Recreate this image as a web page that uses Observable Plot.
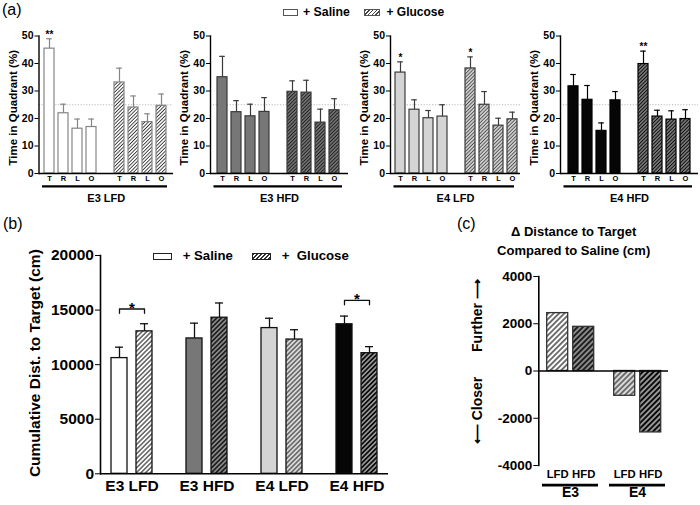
<!DOCTYPE html>
<html><head><meta charset="utf-8">
<script src="https://cdn.jsdelivr.net/npm/d3@7"></script>
<script src="https://cdn.jsdelivr.net/npm/@observablehq/plot@0.6"></script>
<style>
body{margin:0;background:#fff;}
#root{position:relative;width:700px;height:505px;overflow:hidden;font-family:"Liberation Sans",Arial,sans-serif;background:#fff;}
#root svg.plt{position:absolute;left:0;}
.lbl{position:absolute;white-space:pre;line-height:1;color:#000;}
.sw{position:absolute;box-sizing:border-box;}
</style></head><body><div id="root"></div>
<script>
// ---------------- DATA ----------------
const quadrants = ["T", "R", "L", "O"];
const groups = ["E3 LFD", "E3 HFD", "E4 LFD", "E4 HFD"];
// (a) time in quadrant (%), rows = groups, cols = quadrants
const salineMean = [[45.4, 21.9, 16.3, 16.9], [35.0, 22.3, 20.8, 22.4], [36.7, 23.2, 20.1, 20.7], [31.7, 26.8, 15.5, 26.6]];
const salineSEM  = [[3.6, 3.3, 3.5, 2.9], [7.6, 4.2, 4.4, 5.2], [3.9, 3.6, 2.8, 4.3], [4.3, 5.2, 2.9, 3.2]];
const glucoseMean = [[33.1, 24.0, 18.7, 24.6], [29.7, 29.4, 18.5, 23.0], [38.2, 25.0, 17.4, 19.7], [39.8, 20.7, 19.6, 19.8]];
const glucoseSEM  = [[5.2, 4.2, 3.0, 4.3], [4.0, 4.5, 4.9, 4.2], [4.2, 4.8, 2.7, 2.6], [4.7, 2.3, 3.2, 3.4]];
const salineSig  = [["**", "", "", ""], ["", "", "", ""], ["*", "", "", ""], ["", "", "", ""]];
const glucoseSig = [["", "", "", ""], ["", "", "", ""], ["*", "", "", ""], ["**", "", "", ""]];
const chanceLevel = 25;
const quadTicks = [0, 10, 20, 30, 40, 50];
// (b) cumulative distance to target (cm)
const distSalineMean = [10600, 12400, 13350, 13700];
const distSalineSEM = [1000, 1400, 900, 750];
const distGlucoseMean = [13050, 14300, 12300, 11050];
const distGlucoseSEM = [700, 1350, 900, 600];
const distSig = ["*", "", "", "*"];
const distBracketY = [15100, 0, 0, 15880];
const distTicks = [0, 5000, 10000, 15000, 20000];
// (c) delta distance vs saline (cm)
const deltaGenotypes = ["E3", "E4"];
const deltaDiets = ["LFD", "HFD"];
const deltaValues = [[2450, 1870], [-1050, -2600]];
const deltaTicks = [-4000, -2000, 0, 2000, 4000];

// ---------------- STYLE ----------------
const FONT = '"Liberation Sans", Arial, sans-serif';
const salineFill = {"E3 LFD": "#ffffff", "E3 HFD": "#777777", "E4 LFD": "#d4d4d4", "E4 HFD": "#060606"};
const strokeA = {"E3 LFD": "#858585", "E3 HFD": "#3a3a3a", "E4 LFD": "#3c3c3c", "E4 HFD": "#000000"};
const hatchBg = {"E3 LFD": "#ffffff", "E3 HFD": "#8a8a8a", "E4 LFD": "#dadada", "E4 HFD": "#c4c4c4"};
const hatchFg = {"E3 LFD": "#333333", "E3 HFD": "#1e1e1e", "E4 LFD": "#505050", "E4 HFD": "#0a0a0a"};
const hatchW  = {"E3 LFD": 0.36, "E3 HFD": 0.5, "E4 LFD": 0.4, "E4 HFD": 0.62};
const hatchSize = {a: 2.5, b: 3.3, c: 3.8};

const root = document.getElementById("root");
// pattern defs
const defs = d3.select(root).append("svg").attr("width", 0).attr("height", 0)
  .style("position", "absolute").append("defs");
function patId(panel, g) { return `hatch-${panel}-${groups.indexOf(g)}`; }
for (const panel of ["a", "b", "c"]) {
  const s = hatchSize[panel];
  for (const g of groups) {
    const p = defs.append("pattern").attr("id", patId(panel, g))
      .attr("patternUnits", "userSpaceOnUse").attr("width", s).attr("height", s)
      .attr("patternTransform", "rotate(45)");
    p.append("rect").attr("width", s).attr("height", s).attr("fill", hatchBg[g]);
    p.append("line").attr("x1", s / 2).attr("x2", s / 2).attr("y1", -1).attr("y2", s + 1)
      .attr("stroke", hatchFg[g]).attr("stroke-width", s * hatchW[g]);
  }
}
function place(svg, top) { svg.classList.add("plt"); svg.style.top = top + "px"; root.appendChild(svg); }
function label(text, left, top, size, weight) {
  const d = document.createElement("div"); d.className = "lbl"; d.textContent = text;
  Object.assign(d.style, {left: left + "px", top: top + "px", fontSize: size + "px", fontWeight: weight || "normal"});
  root.appendChild(d);
}
function swatch(left, top, w, h, bg, border) {
  const d = document.createElement("div"); d.className = "sw";
  Object.assign(d.style, {left: left + "px", top: top + "px", width: w + "px", height: h + "px", background: bg, border: border});
  root.appendChild(d);
}
const hatchCss = (bg, fg, a, b) => `repeating-linear-gradient(135deg, ${fg} 0 ${a}px, ${bg} ${a}px ${b}px)`;

// ---------------- PANEL A ----------------
const slotKeys = ["S-T", "S-R", "S-L", "S-O", "gap", "G-T", "G-R", "G-L", "G-O"];
const slotLabel = k => k === "gap" ? "" : k.slice(2);
const geomA = [
  {axis: 38.5, c0: 45.7, c8: 163.3, end: 173},
  {axis: 210, c0: 219.5, c8: 336.5, end: 348},
  {axis: 390, c0: 396.7, c8: 514, end: 520},
  {axis: 560, c0: 570, c8: 688, end: 698}
];
groups.forEach((g, gi) => {
  const rows = [];
  quadrants.forEach((q, qi) => rows.push({slot: "S-" + q, treat: "S", mean: salineMean[gi][qi], hi: salineMean[gi][qi] + salineSEM[gi][qi], sig: salineSig[gi][qi]}));
  quadrants.forEach((q, qi) => rows.push({slot: "G-" + q, treat: "G", mean: glucoseMean[gi][qi], hi: glucoseMean[gi][qi] + glucoseSEM[gi][qi], sig: glucoseSig[gi][qi]}));
  const geo = geomA[gi], H = 210, base = 173;
  const sk = strokeA[g];
  const svg = Plot.plot({
    width: 700, height: H,
    marginLeft: geo.axis, marginRight: 700 - geo.end, marginTop: 35.5, marginBottom: H - base,
    style: {background: "transparent", fontFamily: FONT, overflow: "visible", color: "#000"},
    x: {domain: slotKeys, range: [geo.c0 - 5, geo.c8 + 5], paddingInner: 0.32, paddingOuter: 0, axis: null},
    y: {domain: [0, 50], axis: null},
    color: {type: "identity"},
    marks: [
      Plot.ruleY([chanceLevel], {stroke: "#b8b8b8", strokeWidth: 1, strokeDasharray: "1.2,1.6"}),
      Plot.barY(rows, {x: "slot", y: "mean", fill: d => d.treat === "S" ? salineFill[g] : `url(#${patId("a", g)})`, stroke: sk, strokeWidth: 1.2}),
      Plot.ruleX(rows, {x: "slot", y1: "mean", y2: "hi", stroke: sk, strokeWidth: 1.2}),
      Plot.tickY(rows, {x: "slot", y: "hi", stroke: sk, strokeWidth: 1.2, insetLeft: 2.2, insetRight: 2.2}),
      Plot.text(rows.filter(d => d.sig), {x: "slot", y: "hi", text: "sig", dy: -4, fontSize: 10, fontWeight: "bold"}),
      Plot.ruleY([0], {strokeWidth: 1.4}),
      Plot.frame({anchor: "left", strokeWidth: 1.4}),
      Plot.axisY({ticks: quadTicks, tickSize: 4, tickPadding: 1.5, fontSize: 10.5, fontWeight: "bold", label: null}),
      Plot.axisX({tickSize: 0, tickPadding: 2.5, fontSize: 7.5, fontWeight: "bold", tickFormat: slotLabel, label: null}),
      Plot.ruleY([-4.7], {strokeWidth: 2.2, insetLeft: 3.5, insetRight: 6}),
      Plot.text([g], {frameAnchor: "bottom", lineAnchor: "middle", dy: 24.5, fontSize: 11, fontWeight: "bold"}),
      Plot.text(["Time in Quadrant (%)"], {frameAnchor: "left", textAnchor: "middle", dx: -26, dy: 3, rotate: -90, fontSize: 11.5, fontWeight: "bold"})
    ]
  });
  place(svg, 0);
});
label("(a)", 2, 2, 16);
swatch(283, 9, 15, 7, "#fff", "1px solid #555");
label("+ Saline", 303, 6, 12.3, "bold");
swatch(364, 9, 16, 7, hatchCss("#fff", "#444", 1, 2.6), "1px solid #555");
label("+ Glucose", 386.5, 6, 12, "bold");

// ---------------- PANEL B ----------------
const distRows = [];
groups.forEach((g, i) => {
  distRows.push({group: g, treat: "Saline", mean: distSalineMean[i], hi: distSalineMean[i] + distSalineSEM[i]});
  distRows.push({group: g, treat: "Glucose", mean: distGlucoseMean[i], hi: distGlucoseMean[i] + distGlucoseSEM[i]});
});
const bracketRows = [], starRows = [];
groups.forEach((g, i) => {
  if (!distSig[i]) return;
  const t = distBracketY[i];
  bracketRows.push({group: g, treat: "Saline", y: t - 400}, {group: g, treat: "Saline", y: t}, {group: g, treat: "Glucose", y: t}, {group: g, treat: "Glucose", y: t - 400});
  starRows.push({group: g, y: t, s: distSig[i]});
});
const mB = {width: 700, height: 300, marginLeft: 100, marginRight: 312, marginTop: 50, marginBottom: 31.7};
place(Plot.plot({
  ...mB,
  style: {background: "transparent", fontFamily: FONT, overflow: "visible", color: "#000"},
  fx: {domain: groups, paddingInner: 0.3, paddingOuter: 0.0575, label: null},
  x: {domain: ["Saline", "Glucose"], paddingInner: 0.36, paddingOuter: 0.237, axis: null},
  y: {domain: [0, 20000], axis: null},
  color: {type: "identity"},
  marks: [
    Plot.barY(distRows, {fx: "group", x: "treat", y: "mean", fill: d => d.treat === "Saline" ? salineFill[d.group] : `url(#${patId("b", d.group)})`, stroke: "#111", strokeWidth: 1.3}),
    Plot.ruleX(distRows, {fx: "group", x: "treat", y1: "mean", y2: "hi", stroke: "#111", strokeWidth: 1.3}),
    Plot.tickY(distRows, {fx: "group", x: "treat", y: "hi", stroke: "#111", strokeWidth: 1.3, insetLeft: 4, insetRight: 4}),
    Plot.line(bracketRows, {fx: "group", x: "treat", y: "y", z: "group", stroke: "#111", strokeWidth: 1.3}),
    Plot.text(starRows, {fx: "group", y: "y", text: "s", dy: -1, fontSize: 15, fontWeight: "bold"}),
    Plot.axisFx({anchor: "bottom", tickSize: 0, tickPadding: 6, fontSize: 15.5, fontWeight: "bold", label: null})
  ]
}), 205);
place(Plot.plot({
  ...mB,
  style: {background: "transparent", fontFamily: FONT, overflow: "visible", color: "#000"},
  y: {domain: [0, 20000], axis: null},
  marks: [
    Plot.ruleY([0], {strokeWidth: 1.6}),
    Plot.frame({anchor: "left", strokeWidth: 1.6}),
    Plot.axisY({ticks: distTicks, tickSize: 5, tickPadding: 1.5, fontSize: 15.5, fontWeight: "bold", tickFormat: d => String(d), label: null}),
    Plot.text(["Cumulative Dist. to Target (cm)"], {frameAnchor: "left", textAnchor: "middle", dx: -65, dy: -1.5, rotate: -90, fontSize: 15.5, fontWeight: "bold"})
  ]
}), 205);
label("(b)", 3, 216, 16);
swatch(152.7, 252.7, 19, 7, "#fff", "1.2px solid #222");
label("+ Saline", 182.7, 249.3, 13.2, "bold");
swatch(251.7, 252.7, 19, 7, hatchCss("#fff", "#333", 1, 2.8), "1.2px solid #222");
label("+  Glucose", 281.7, 249.3, 13.2, "bold");

// ---------------- PANEL C ----------------
const deltaRows = [];
deltaGenotypes.forEach((gt, i) => deltaDiets.forEach((dt, j) => deltaRows.push({genotype: gt, diet: dt, value: deltaValues[i][j]})));
const mC = {width: 700, height: 300, marginLeft: 538.3, marginRight: 32, marginTop: 71, marginBottom: 40};
place(Plot.plot({
  ...mC,
  style: {background: "transparent", fontFamily: FONT, overflow: "visible", color: "#000"},
  fx: {domain: deltaGenotypes, paddingInner: 0.162, paddingOuter: 0.037, label: null},
  x: {domain: deltaDiets, paddingInner: 0.2075, paddingOuter: 0.179, axis: null},
  y: {domain: [-4000, 4000], axis: null},
  color: {type: "identity"},
  marks: [
    Plot.barY(deltaRows, {fx: "genotype", x: "diet", y: "value", fill: d => `url(#${patId("c", d.genotype + " " + d.diet)})`, stroke: "#333", strokeWidth: 1.3}),
    Plot.axisX({anchor: "bottom", tickSize: 0, tickPadding: 4, fontSize: 11.3, fontWeight: "bold", label: null}),
    Plot.ruleY([-4830], {strokeWidth: 2.6}),
    Plot.axisFx({anchor: "bottom", tickSize: 0, tickPadding: 22, fontSize: 14, fontWeight: "bold", label: null})
  ]
}), 205);
place(Plot.plot({
  ...mC,
  style: {background: "transparent", fontFamily: FONT, overflow: "visible", color: "#000"},
  y: {domain: [-4000, 4000], axis: null},
  marks: [
    Plot.ruleY([0], {strokeWidth: 1.6}),
    Plot.frame({anchor: "left", strokeWidth: 1.6}),
    Plot.axisY({ticks: deltaTicks, tickSize: 5, tickPadding: 1.5, fontSize: 13.5, fontWeight: "bold", tickFormat: d => String(d), label: null}),
    Plot.text(["\u0394 Distance to Target"], {frameAnchor: "top", lineAnchor: "middle", dx: -30, dy: -44.3, fontSize: 13, fontWeight: "bold"}),
    Plot.text(["Compared to Saline (cm)"], {frameAnchor: "top", lineAnchor: "middle", dx: -30, dy: -26, fontSize: 13, fontWeight: "bold"}),
    Plot.text(["Further \u27F6"], {frameAnchor: "left", textAnchor: "middle", dx: -61, dy: -55.5, rotate: -90, fontSize: 14, fontWeight: "bold"}),
    Plot.text(["\u27F5 Closer"], {frameAnchor: "left", textAnchor: "middle", dx: -61, dy: 39.5, rotate: -90, fontSize: 14, fontWeight: "bold"})
  ]
}), 205);
label("(c)", 457, 216, 16);
</script></body></html>
